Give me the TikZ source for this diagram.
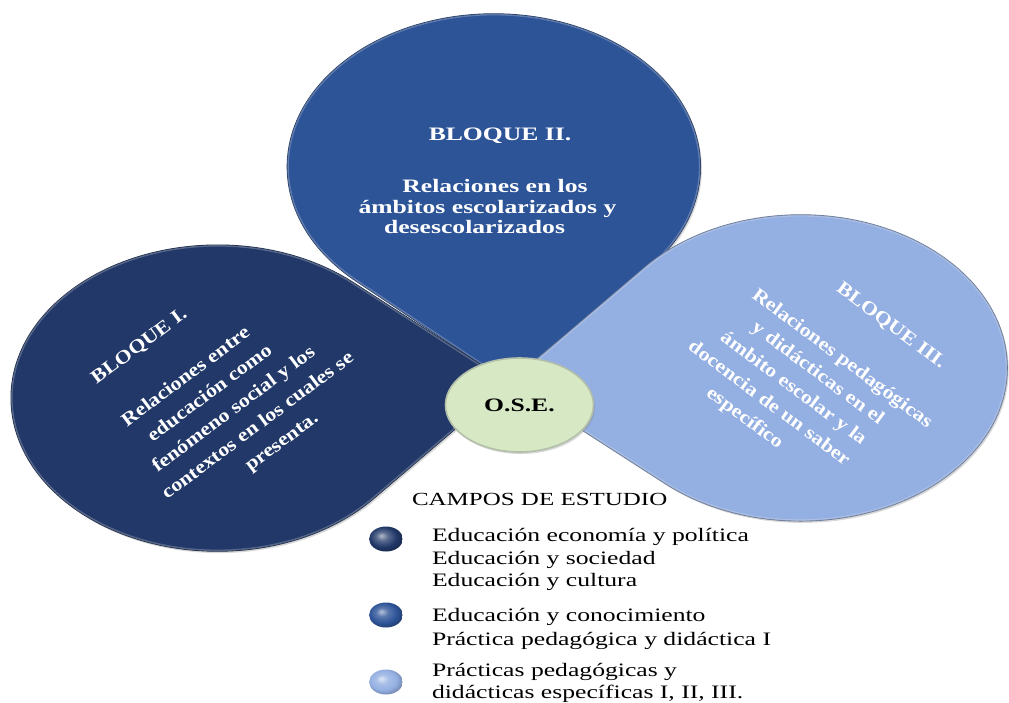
\documentclass[tikz,border=0pt]{standalone}
\usepackage{fontspec}
\setmainfont{Liberation Serif}
\usetikzlibrary{calc,shapes.geometric,shadows}

\definecolor{blockone}{RGB}{33,56,104}
\definecolor{blocktwo}{RGB}{46,84,152}
\definecolor{blockthree}{RGB}{148,175,226}
\definecolor{osefill}{RGB}{215,233,196}
\definecolor{paletext}{RGB}{238,242,252}

% glossy legend bullets, highlight towards the upper left
\pgfdeclareradialshading{bulletone}{\pgfpoint{-7bp}{7bp}}{color(0bp)=(blockone!35!white);
  color(9bp)=(blockone!75!white); color(20bp)=(blockone); color(30bp)=(blockone!70!black);
  color(50bp)=(blockone!50!black)}
\pgfdeclareradialshading{bullettwo}{\pgfpoint{-7bp}{7bp}}{color(0bp)=(blocktwo!35!white);
  color(9bp)=(blocktwo!80!white); color(20bp)=(blocktwo); color(30bp)=(blocktwo!70!black);
  color(50bp)=(blocktwo!50!black)}
\pgfdeclareradialshading{bulletthree}{\pgfpoint{-7bp}{7bp}}{color(0bp)=(blockthree!30!white);
  color(9bp)=(blockthree!80!white); color(20bp)=(blockthree); color(30bp)=(blockthree!75!black);
  color(50bp)=(blockthree!55!black)}

% teardrop: circle of radius 153 whose corner quadrant points along angle #2
\newcommand\tearpath[2]{($(#1)+(#2:216.4)$) -- ($(#1)+({#2-45}:153)$)
  arc[start angle={#2-45}, delta angle=-270, radius=153] -- cycle}

\tikzset{
  tearshape/.style={draw=#1!65!black, line width=1.2pt, fill=#1,
    drop shadow={shadow xshift=1.5pt, shadow yshift=-2pt, opacity=.3}},
  rimlight/.style={draw=#1!55!white, line width=3pt, opacity=.55},
  blocktxt/.style={font=\bfseries\fontsize{19}{23}\selectfont, align=center,
    text=white, transform shape, inner sep=0pt},
  linetxt/.style={font=\bfseries\fontsize{19}{23}\selectfont, text=white,
    inner sep=0pt, anchor=base, rotate=#1, xscale=1.16},
  legtxt/.style={font=\fontsize{19}{22.5}\selectfont, anchor=base west,
    transform shape, inner sep=0pt},
  legball/.style={circle, minimum size=25pt, inner sep=0pt, shading=#1,
    transform shape},
  osebox/.style={ellipse, minimum width=109.6pt, minimum height=94pt,
    inner sep=0pt, fill=osefill, draw=osefill!60!gray, line width=1.6pt,
    font=\bfseries\fontsize{19}{22}\selectfont, transform shape,
    drop shadow={shadow xshift=1.5pt, shadow yshift=-2pt, opacity=.3}}
}

\begin{document}
\begin{tikzpicture}[x=1pt,y=-1pt]
\fill[white] (0,0) rectangle (1009,702);
\useasboundingbox (0,0) rectangle (1009,702);

\begin{scope}[xscale=1.35]
  % common tip of the three teardrops and their centres
  \coordinate (tip) at (377,383);
  \coordinate (cI)   at ($(tip)+(176:216.4)$);
  \coordinate (cII)  at ($(tip)+(267:216.4)$);
  \coordinate (cIII) at ($(tip)+(-4:216.4)$);

  % Bloque II
  \path[tearshape=blocktwo] \tearpath{cII}{87};
  \begin{scope}
    \clip \tearpath{cII}{87};
    \path[rimlight=blocktwo] \tearpath{cII}{87};
  \end{scope}
  \node[blocktxt, anchor=base] (b2title) at (370.4,140.5) {BLOQUE II.};
  \node[blocktxt, anchor=base] (b2a) at (366.7,192.5) {Relaciones en los};
  \node[blocktxt, anchor=base] (b2b) at (361.1,213) {ámbitos escolarizados y};
  \node[blocktxt, anchor=base] (b2c) at (351.5,233.5) {desescolarizados};

  % Bloque I and Bloque III
  \path[tearshape=blockone] \tearpath{cI}{-4};
  \begin{scope}
    \clip \tearpath{cI}{-4};
    \path[rimlight=blockone] \tearpath{cI}{-4};
  \end{scope}
  \path[tearshape=blockthree] \tearpath{cIII}{176};
  \begin{scope}
    \clip \tearpath{cIII}{176};
    \path[rimlight=blockthree] \tearpath{cIII}{176};
  \end{scope}

  % centre
  \node[osebox] (ose) at (384.8,405) {O.S.E.};

  % legend
  \node[legtxt, font=\fontsize{18.5}{22}\selectfont] (campos) at (305,505) {CAMPOS DE ESTUDIO};
  \node[legball=bulletone]   (ballI)   at (285.9,539) {};
  \node[legball=bullettwo]   (ballII)  at (285.9,615) {};
  \node[legball=bulletthree] (ballIII) at (285.9,682) {};
  \node[legtxt] (fa) at (319.8,541.5) {Educación economía y política};
  \node[legtxt] (fb) at (319.8,564.3) {Educación y sociedad};
  \node[legtxt] (fc) at (319.8,586.7) {Educación y cultura};
  \node[legtxt] (fd) at (319.8,621.7) {Educación y conocimiento};
  \node[legtxt] (fe) at (319.8,645)   {Práctica pedagógica y didáctica I};
  \node[legtxt] (ff) at (319.8,676.7) {Prácticas pedagógicas y};
  \node[legtxt] (fg) at (319.8,698.3) {didácticas específicas I, II, III.};
\end{scope}

% Bloque I text, one rotated line per node
\node[linetxt=36.7] (b1t) at (142.3,350.6) {BLOQUE I.};
\node[linetxt=36.7] (b1a) at (189.1,381.2) {Relaciones entre};
\node[linetxt=36.7] (b1b) at (213.0,397.4) {educación como};
\node[linetxt=36.7] (b1c) at (236.9,413.7) {fenómeno social y los};
\node[linetxt=36.7] (b1d) at (260.9,429.9) {contextos en los cuales se};
\node[linetxt=36.7] (b1e) at (284.8,446.2) {presenta.};

% Bloque III text
\begin{scope}[every node/.append style={text=paletext}]
\node[linetxt=-36.7] (b3t) at (888.2,330.0) {BLOQUE III.};
\node[linetxt=-36.7] (b3a) at (839.1,362.9) {Relaciones pedagógicas};
\node[linetxt=-36.7] (b3b) at (814.7,377.7) {y didácticas en el};
\node[linetxt=-36.7] (b3c) at (790.4,392.6) {ámbito escolar y la};
\node[linetxt=-36.7] (b3d) at (766.0,407.6) {docencia de un saber};
\node[linetxt=-36.7] (b3e) at (741.7,422.2) {específico};
\end{scope}
\end{tikzpicture}
\end{document}
